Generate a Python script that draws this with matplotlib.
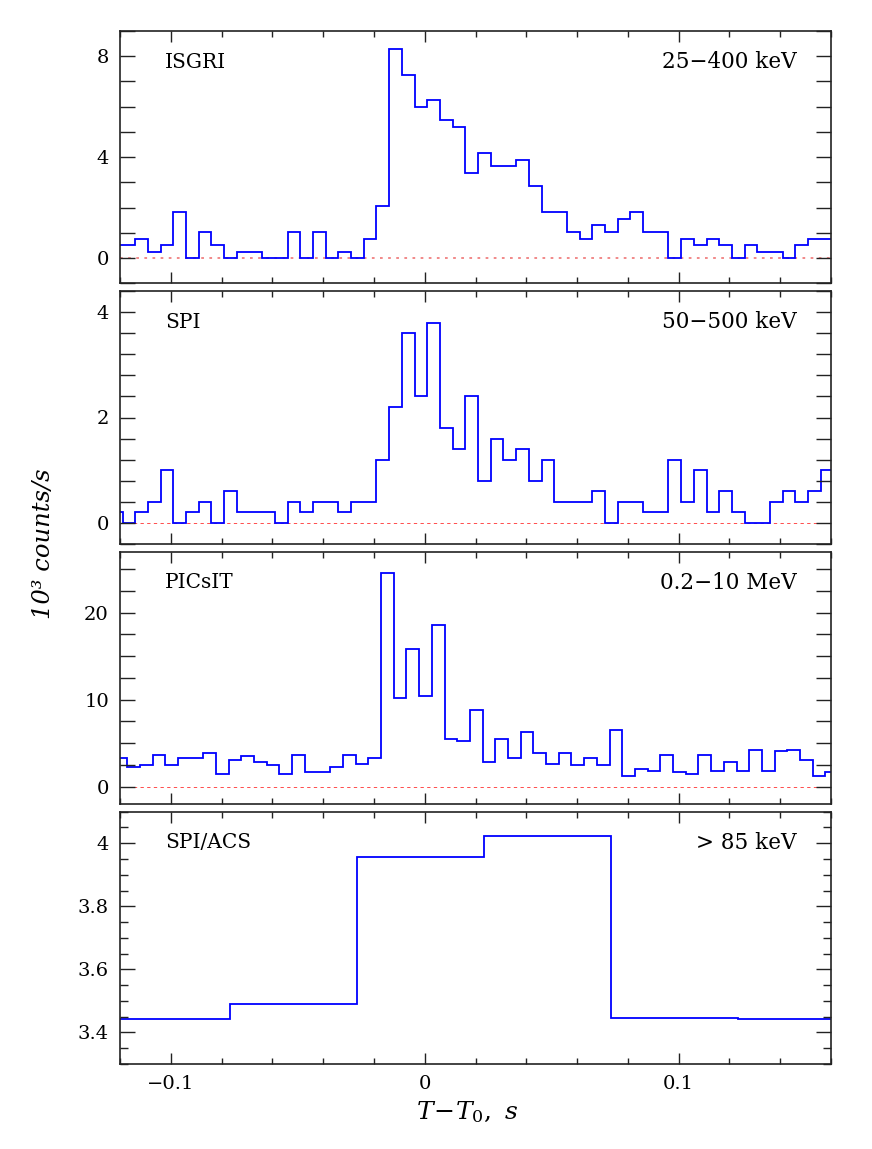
import numpy as np
import matplotlib
matplotlib.use("Agg")
import matplotlib.pyplot as plt
from matplotlib.ticker import MultipleLocator, FuncFormatter

plt.rcParams['font.family'] = ['DejaVu Serif']
plt.rcParams['mathtext.fontset'] = 'dejavuserif'

# ---------------- data ----------------
bin_width = 0.005
isgri_start = -0.124
isgri_rate = [0.50, 0.50, 0.77, 0.25, 0.50, 1.82, 0.00, 1.04, 0.50, 0.00,
              0.25, 0.25, 0.00, 0.00, 1.04, 0.00, 1.04, 0.00, 0.25, 0.00,
              0.77, 2.06, 8.30, 7.27, 5.98, 6.26, 5.48, 5.19, 3.37, 4.16,
              3.64, 3.64, 3.90, 2.84, 1.82, 1.82, 1.04, 0.77, 1.30, 1.04,
              1.56, 1.82, 1.04, 1.04, 0.00, 0.77, 0.52, 0.77, 0.52, 0.00,
              0.52, 0.26, 0.26, 0.00, 0.52, 0.77, 0.77]

spi_start = -0.124
spi_rate = [0.2, 0.0, 0.2, 0.4, 1.0, 0.0, 0.2, 0.4, 0.0, 0.6,
            0.2, 0.2, 0.2, 0.0, 0.4, 0.2, 0.4, 0.4, 0.2, 0.4,
            0.4, 1.2, 2.2, 3.6, 2.4, 3.8, 1.8, 1.4, 2.4, 0.8,
            1.6, 1.2, 1.4, 0.8, 1.2, 0.4, 0.4, 0.4, 0.6, 0.0,
            0.4, 0.4, 0.2, 0.2, 1.2, 0.4, 1.0, 0.2, 0.6, 0.2,
            0.0, 0.0, 0.4, 0.6, 0.4, 0.6, 1.0]

picsit_start = -0.1222
picsit_rate = [3.24, 2.25, 2.48, 3.63, 2.44, 3.24, 3.24, 3.85, 1.41, 3.05,
               3.47, 2.86, 2.48, 1.41, 3.63, 1.64, 1.64, 2.25, 3.63, 2.63,
               3.24, 24.6, 10.19, 15.8, 10.38, 18.63, 5.42, 5.23, 8.85, 2.86,
               5.42, 3.24, 6.26, 3.85, 2.63, 3.85, 2.44, 3.24, 2.44, 6.45,
               1.22, 2.02, 1.83, 3.63, 1.64, 1.45, 3.63, 1.83, 2.86, 1.83,
               4.20, 1.83, 4.05, 4.20, 3.05, 1.22, 1.64]

acs_edges = [-0.1267, -0.0767, -0.0267, 0.0233, 0.0733, 0.1233, 0.1733]
acs_rate = [3.442, 3.490, 3.957, 4.023, 3.445, 3.442]

panel_names = ["ISGRI", "SPI", "PICsIT", "SPI/ACS"]
panel_bands = ["25\u2212400 keV", "50\u2212500 keV", "0.2\u221210 MeV", "> 85 keV"]
ylims = [(-1, 9), (-0.4, 4.4), (-2, 27), (3.3, 4.1)]
ymajor = [4, 2, 10, 0.2]
yminor = [1, 0.4, 2.5, 0.05]
xlim = (-0.12, 0.16)

# ---------------- figure ----------------
W, H = 872, 1149
fig = plt.figure(figsize=(W / 100, H / 100), dpi=100)

tops = [31, 291, 551.7, 811.7]
bots = [283.3, 544, 804, 1064]
left_px, right_px = 120, 831

def make_edges(start, n):
    return start + bin_width * np.arange(n + 1)

series = [
    (make_edges(isgri_start, len(isgri_rate)), isgri_rate),
    (make_edges(spi_start, len(spi_rate)), spi_rate),
    (make_edges(picsit_start, len(picsit_rate)), picsit_rate),
    (np.array(acs_edges), acs_rate),
]

def fmt(v, pos):
    s = "%g" % v
    return s.replace("-", "\u2212")

axes = []
for i in range(4):
    ax = fig.add_axes([left_px / W, 1 - bots[i] / H,
                       (right_px - left_px) / W, (bots[i] - tops[i]) / H])
    axes.append(ax)
    edges, vals = series[i]
    ax.stairs(vals, edges, color='#0000ff', linewidth=1.3, baseline=None)
    if i == 0:
        ax.axhline(0, color='#f08080', linestyle=(0, (1.5, 3)), linewidth=1.3, zorder=0)
    elif i in (1, 2):
        ax.axhline(0, color='#ff3030', linestyle=(0, (4, 4)), linewidth=0.6, zorder=0)
    ax.set_xlim(*xlim)
    ax.set_ylim(*ylims[i])
    ax.xaxis.set_major_locator(MultipleLocator(0.1))
    ax.xaxis.set_minor_locator(MultipleLocator(0.02))
    ax.yaxis.set_major_locator(MultipleLocator(ymajor[i]))
    ax.yaxis.set_minor_locator(MultipleLocator(yminor[i]))
    ax.yaxis.set_major_formatter(FuncFormatter(fmt))
    ax.xaxis.set_major_formatter(FuncFormatter(fmt))
    ax.tick_params(which='both', direction='in', top=True, right=True,
                   labelsize=14, width=1.0, color='#222222')
    ax.tick_params(axis='x', which='major', length=8, pad=8)
    ax.tick_params(axis='x', which='minor', length=4.5)
    ax.tick_params(axis='y', which='major', length=11, pad=8)
    ax.tick_params(axis='y', which='minor', length=11 if i < 3 else 6)
    if i < 3:
        ax.tick_params(axis='x', labelbottom=False)
    for sp in ax.spines.values():
        sp.set_linewidth(1.2)
        sp.set_color('#222222')
    ax.text(0.063, 0.877, panel_names[i], transform=ax.transAxes,
            ha='left', va='center', fontsize=14.5)
    ax.text(0.952, 0.877, panel_bands[i], transform=ax.transAxes,
            ha='right', va='center', fontsize=15.5)

fig.text(0.050, 0.527, "10\u00b3 counts/s", rotation=90, ha='center', va='center',
         fontsize=17.5, style='italic')
fig.text(467 / W, 1 - 1112 / H, r"$T\!-\!T_0,\ s$", ha='center', va='center',
         fontsize=18)

fig.savefig("out.png", dpi=100)
